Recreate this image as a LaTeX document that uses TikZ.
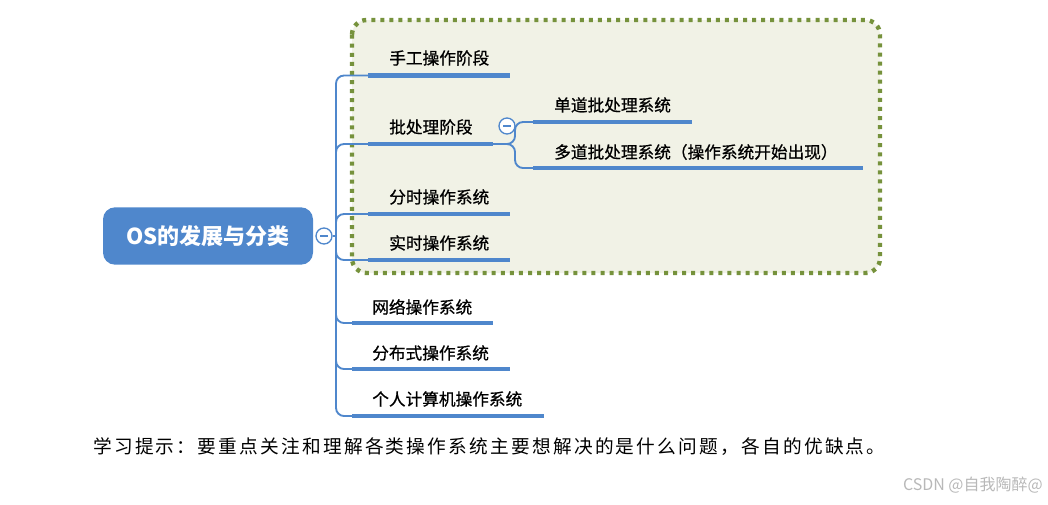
\documentclass[tikz,border=0pt]{standalone}
\usepackage{fontspec}
\setmainfont{Noto Sans CJK SC}
\usepackage{xcolor}
\usepackage{tikz}
\usetikzlibrary{positioning, calc}

\definecolor{mmblue}{HTML}{4F87CC}
\definecolor{dotgreen}{HTML}{76923C}
\definecolor{boxfill}{HTML}{F1F2E6}

\begin{document}
\begin{tikzpicture}[
            x=0.75pt, y=-0.75pt,
            root/.style={rectangle, rounded corners=9pt, fill=mmblue, text=white,
                         minimum width=157.5pt, minimum height=43pt, inner sep=0pt,
                         font=\fontsize{16.5pt}{18pt}\selectfont\bfseries},
            topic/.style={anchor=west, inner sep=0pt,
                          font=\fontsize{12.5pt}{14pt}\selectfont\addfontfeature{FakeBold=0.8}},
            fold/.style={circle, draw=mmblue, fill=white, line width=1pt,
                         minimum size=12pt, inner sep=0pt},
            link/.style={draw=mmblue, line width=1.4pt, rounded corners=6pt},
            bar/.style={draw=mmblue, line width=3.2pt},
            groupbox/.style={draw=dotgreen, fill=boxfill, line width=3.3pt,
                             dash pattern=on 3pt off 3.8pt, rounded corners=11pt}
        ]
        \useasboundingbox (0,0) rectangle (1048,504);

        % ===== DOTTED GROUP (early stages) =====
        \draw[groupbox] (352,20) rectangle (880,273);

        % ===== ROOT =====
        \node[root] (os) at (208,236) {OS的发展与分类};
        \node[fold] (osfold) at (324,236) {};
        \draw[mmblue, line width=1pt] ([xshift=-3pt]osfold.center) -- ([xshift=3pt]osfold.center);
        \coordinate (trunk) at (336,236);
        \draw[link] (osfold) -- (trunk);

        % ===== FIRST LEVEL =====
        \node[topic] (manual) at (389,58) {手工操作阶段};
        \coordinate (manual-a) at (368,75.5);
        \coordinate (manual-b) at (510,75.5);

        \node[topic] (batch) at (389,127) {批处理阶段};
        \coordinate (batch-a) at (368,144);
        \coordinate (batch-b) at (493,144);

        \node[topic] (timeshare) at (389,197) {分时操作系统};
        \coordinate (timeshare-a) at (368,214);
        \coordinate (timeshare-b) at (510,214);

        \node[topic] (realtime) at (389,243) {实时操作系统};
        \coordinate (realtime-a) at (368,260);
        \coordinate (realtime-b) at (510,260);

        \node[topic] (network) at (372,307) {网络操作系统};
        \coordinate (network-a) at (352,323);
        \coordinate (network-b) at (493,323);

        \node[topic] (distrib) at (372,353) {分布式操作系统};
        \coordinate (distrib-a) at (352,369);
        \coordinate (distrib-b) at (510,369);

        \node[topic] (personal) at (372,399) {个人计算机操作系统};
        \coordinate (personal-a) at (352,416);
        \coordinate (personal-b) at (544,416);

        % trunk to each topic
        \draw[link] (trunk) |- (manual-a);
        \draw[link] (trunk) |- (batch-a);
        \draw[link] (trunk) |- (timeshare-a);
        \draw[link] (trunk) |- (realtime-a);
        \draw[link] (trunk) |- (network-a);
        \draw[link] (trunk) |- (distrib-a);
        \draw[link] (trunk) |- (personal-a);

        % underlines
        \draw[bar] (manual-a) -- (manual-b);
        \draw[bar] (batch-a) -- (batch-b);
        \draw[bar] (timeshare-a) -- (timeshare-b);
        \draw[bar] (realtime-a) -- (realtime-b);
        \draw[bar] (network-a) -- (network-b);
        \draw[bar] (distrib-a) -- (distrib-b);
        \draw[bar] (personal-a) -- (personal-b);

        % ===== SECOND LEVEL (batch) =====
        \coordinate (fork) at (515,144);
        \node[topic] (single) at (554,105) {单道批处理系统};
        \coordinate (single-a) at (533,122);
        \coordinate (single-b) at (692,122);
        \node[topic] (multi) at (554,152) {多道批处理系统（操作系统开始出现）};
        \coordinate (multi-a) at (533,168);
        \coordinate (multi-b) at (863,168);

        \draw[link] (batch-b) -- (fork) |- (single-a);
        \draw[link] (batch-b) -- (fork) |- (multi-a);
        \draw[bar] (single-a) -- (single-b);
        \draw[bar] (multi-a) -- (multi-b);

        \node[fold] (batchfold) at (507,126) {};
        \draw[mmblue, line width=1pt] ([xshift=-3pt]batchfold.center) -- ([xshift=3pt]batchfold.center);

        % ===== NOTE & MARK =====
        \node[anchor=west, inner sep=0pt, font=\fontsize{14pt}{16pt}\selectfont\addfontfeature{LetterSpace=12}] (hint) at (93,447)
            {学习提示：要重点关注和理解各类操作系统主要想解决的是什么问题，各自的优缺点。};
        \node[anchor=east, inner sep=0pt, text=black!28, font=\fontsize{12pt}{14pt}\selectfont] (mark) at (1043,485)
            {CSDN @自我陶醉@};

        \end{tikzpicture}
\end{document}
